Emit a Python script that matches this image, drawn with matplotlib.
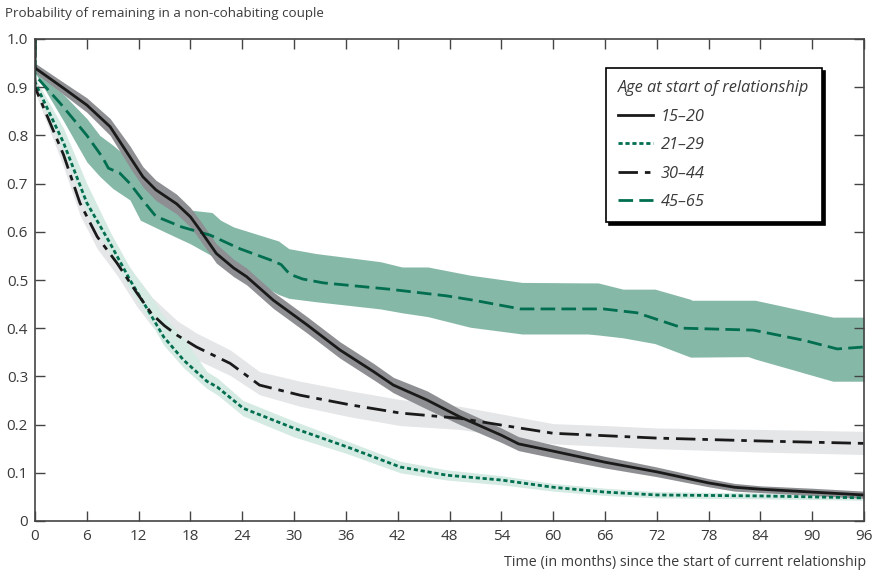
import matplotlib
matplotlib.use("Agg")
import matplotlib.pyplot as plt

plt.rcParams['font.family'] = ['Open Sans', 'DejaVu Sans']
plt.rcParams['lines.scale_dashes'] = False

# ---------------- data ----------------
labels = ["15\u201320", "21\u201329", "30\u201344", "45\u201365"]

t_1520 = [0, 0, 3.3, 6, 8.7, 11, 12.5, 14, 16.4, 18, 19.1, 21, 23, 24.5, 27.6, 31.5, 35.3, 39.2,
          41.5, 45.4, 49.2, 54, 56, 60, 66, 72, 78, 81, 84, 90, 96]
v_1520 = [1.0, 0.94, 0.898, 0.863, 0.818, 0.755, 0.714, 0.687, 0.658, 0.631, 0.604, 0.555, 0.525,
          0.507, 0.458, 0.407, 0.355, 0.31, 0.282, 0.251, 0.216, 0.178, 0.16, 0.145, 0.122, 0.102,
          0.079, 0.07, 0.066, 0.06, 0.054]
hi_1520 = [1.0, 0.95, 0.91, 0.878, 0.835, 0.778, 0.735, 0.707, 0.678, 0.65, 0.624, 0.575, 0.543,
           0.525, 0.475, 0.424, 0.372, 0.327, 0.298, 0.27, 0.232, 0.193, 0.175, 0.158, 0.134,
           0.112, 0.088, 0.078, 0.073, 0.068, 0.062]
lo_1520 = [1.0, 0.93, 0.885, 0.848, 0.8, 0.733, 0.693, 0.665, 0.637, 0.61, 0.583, 0.535, 0.507,
           0.49, 0.441, 0.39, 0.338, 0.293, 0.266, 0.232, 0.2, 0.163, 0.146, 0.131, 0.11, 0.092,
           0.071, 0.062, 0.059, 0.053, 0.047]

t_2129 = [0, 0, 3.3, 6, 8.7, 11, 13.3, 14.9, 17.2, 19.9, 21.1, 24.1, 29.9, 36.1, 42.3, 47.7, 54,
          60, 66, 72, 84, 96]
v_2129 = [1.0, 0.91, 0.785, 0.66, 0.576, 0.50, 0.431, 0.382, 0.334, 0.29, 0.278, 0.234, 0.193,
          0.154, 0.112, 0.095, 0.085, 0.07, 0.06, 0.054, 0.052, 0.048]
hi_2129 = [1.0, 0.92, 0.815, 0.70, 0.60, 0.525, 0.47, 0.425, 0.38, 0.31, 0.297, 0.25, 0.208, 0.166,
           0.124, 0.106, 0.094, 0.078, 0.068, 0.061, 0.058, 0.054]
lo_2129 = [1.0, 0.90, 0.765, 0.64, 0.556, 0.48, 0.415, 0.365, 0.318, 0.275, 0.262, 0.218, 0.175,
           0.14, 0.10, 0.085, 0.075, 0.062, 0.053, 0.048, 0.046, 0.043]

t_3044 = [0, 0, 3.3, 5.2, 7.2, 9.5, 11.8, 13.5, 15, 16.5, 18.7, 22.6, 26, 30.7, 36.5, 42.3, 49.2,
          54, 60, 66, 72, 84, 96]
v_3044 = [1.0, 0.90, 0.76, 0.66, 0.59, 0.535, 0.473, 0.43, 0.405, 0.385, 0.361, 0.327, 0.282,
          0.261, 0.241, 0.224, 0.213, 0.199, 0.182, 0.177, 0.172, 0.166, 0.161]
hi_3044 = [1.0, 0.91, 0.785, 0.69, 0.62, 0.565, 0.505, 0.465, 0.44, 0.415, 0.39, 0.355, 0.31,
           0.29, 0.27, 0.252, 0.238, 0.222, 0.202, 0.198, 0.193, 0.19, 0.186]
lo_3044 = [1.0, 0.89, 0.735, 0.635, 0.565, 0.51, 0.445, 0.405, 0.378, 0.36, 0.335, 0.302, 0.262,
           0.238, 0.216, 0.198, 0.19, 0.177, 0.16, 0.155, 0.15, 0.143, 0.138]

t_4565 = [0, 0, 3, 6, 7.8, 8.5, 9.8, 11, 12.5, 14, 17, 20.3, 23.7, 27.5, 28.5, 29.5, 31, 33.4, 41,
          47.7, 50.8, 56.2, 65.8, 69.7, 75.1, 83.2, 89, 92.9, 96]
v_4565 = [1.0, 0.925, 0.865, 0.80, 0.755, 0.732, 0.722, 0.70, 0.665, 0.632, 0.61, 0.593, 0.565,
          0.54, 0.532, 0.512, 0.502, 0.494, 0.481, 0.467, 0.458, 0.44, 0.44, 0.432, 0.40, 0.396,
          0.375, 0.357, 0.361]

tb_4565 = [0, 3.3, 6, 7.5, 9, 11, 12.2, 15, 18, 20.5, 21.5, 23, 28.2, 29.4, 32.5, 40, 42.5, 45.5,
           50.4, 56.4, 64, 65.2, 68.1, 71.2, 71.8, 75.9, 76.1, 82.6, 83.4, 92.4, 96]
hi_4565 = [0.935, 0.885, 0.835, 0.80, 0.78, 0.75, 0.72, 0.67, 0.645, 0.64, 0.624, 0.61, 0.581,
           0.565, 0.555, 0.538, 0.527, 0.527, 0.51, 0.495, 0.494, 0.494, 0.481, 0.481, 0.481,
           0.46, 0.458, 0.458, 0.458, 0.423, 0.423]
lo_4565 = [0.93, 0.83, 0.745, 0.715, 0.69, 0.666, 0.624, 0.60, 0.575, 0.55, 0.54, 0.52, 0.47,
           0.462, 0.455, 0.44, 0.432, 0.424, 0.402, 0.388, 0.388, 0.386, 0.38, 0.37, 0.368, 0.34,
           0.34, 0.341, 0.336, 0.29, 0.29]

x_ticks = list(range(0, 97, 6))
y_ticks = [0, 0.1, 0.2, 0.3, 0.4, 0.5, 0.6, 0.7, 0.8, 0.9, 1.0]
y_ticklabels = ["0", "0.1", "0.2", "0.3", "0.4", "0.5", "0.6", "0.7", "0.8", "0.9", "1.0"]

# ---------------- style ----------------
GREEN = "#006e4f"
BLACK = "#1a1a1a"
TXT = "#3a3a3a"

fig = plt.figure(figsize=(8.72, 5.72), dpi=100)
ax = fig.add_axes([35 / 872, 1 - 521 / 572, 829 / 872, 482 / 572])

ax.fill_between(t_3044, lo_3044, hi_3044, color="#e5e6e8", lw=0, zorder=1)
ax.fill_between(t_2129, lo_2129, hi_2129, color="#d5eae3", lw=0, zorder=1.1)
ax.fill_between(tb_4565, lo_4565, hi_4565, color="#86b8a8", lw=0, zorder=1.2)
ax.fill_between(t_1520, lo_1520, hi_1520, color="#8e8f92", lw=0, zorder=1.3)

lw = 2.0
l1, = ax.plot(t_1520, v_1520, color=BLACK, lw=lw, zorder=5, label=labels[0],
              solid_joinstyle="round")
l2, = ax.plot(t_2129, v_2129, color=GREEN, lw=lw, zorder=4, label=labels[1],
              dashes=(3.0, 2.0))
l3, = ax.plot(t_3044, v_3044, color=BLACK, lw=lw, zorder=4, label=labels[2],
              dashes=(14, 5, 4, 5))
l4, = ax.plot(t_4565, v_4565, color=GREEN, lw=lw, zorder=4, label=labels[3],
              dashes=(10.5, 4.5))

ax.set_xlim(0, 96)
ax.set_ylim(0, 1.0)
ax.set_xticks(x_ticks)
ax.set_xticklabels([str(v) for v in x_ticks])
ax.set_yticks(y_ticks)
ax.set_yticklabels(y_ticklabels)

for s in ax.spines.values():
    s.set_color("#444444")
    s.set_linewidth(1.2)
    s.set_zorder(6)
ax.tick_params(axis="both", which="both", direction="in", length=7, width=1.0,
               color="#444444", top=True, right=True, labelsize=11, labelcolor=TXT)
ax.tick_params(axis="y", pad=5)
ax.tick_params(axis="x", pad=6)

fig.text(5 / 872, 1 - 14 / 572, "Probability of remaining in a non-cohabiting couple",
         fontsize=9.6, color=TXT, ha="left", va="center")
fig.text(866 / 872, 1 - 563 / 572, "Time (in months) since the start of current relationship",
         fontsize=10.3, color=TXT, ha="right", va="center")

leg = ax.legend(handles=[l1, l2, l3, l4], title="Age at start of relationship",
                loc="upper right", bbox_to_anchor=((822 - 35) / 829, (521 - 68) / 482),
                frameon=True, fancybox=False, shadow={"color": "black", "alpha": 1.0},
                edgecolor="black", facecolor="white", framealpha=1.0,
                prop={"style": "italic", "size": 11.8},
                title_fontproperties={"style": "italic", "size": 11.8},
                labelspacing=0.76, handlelength=2.1, handletextpad=0.5,
                borderpad=0.75, alignment="left", borderaxespad=0)
leg.get_frame().set_linewidth(1.2)
for txt in leg.get_texts():
    txt.set_color(TXT)
leg.get_title().set_color(TXT)
leg.set_zorder(10)

fig.savefig("out.png", dpi=100)
